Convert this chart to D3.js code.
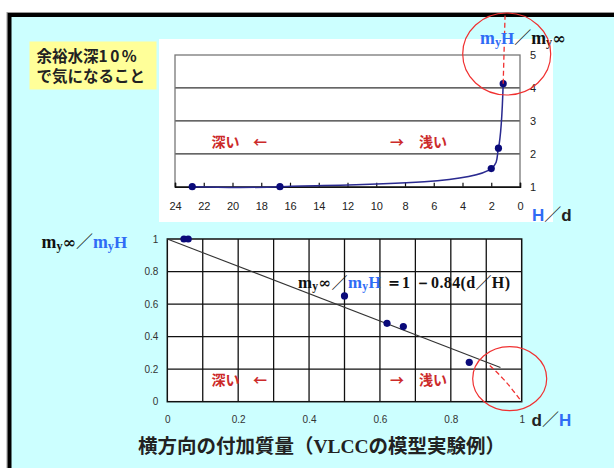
<!DOCTYPE html>
<html><head><meta charset="utf-8">
<script src="https://cdn.jsdelivr.net/npm/d3@7"></script>
<style>
body{margin:0;background:#fff}
svg{display:block}
</style>
</head><body>
<svg id="c" width="614" height="468"></svg>
<script>
// --- upper chart: H/d against myH/my∞ ---
const depthRatio   = [22.8, 16.7, 2.0, 1.5, 1.17];
const massRatioUp  = [1.0, 1.0, 1.55, 2.17, 4.13];
// dashed continuation past the shallowest point
const trendHd      = [1.17, 1.04];
const trendUp      = [4.13, 6.2];
const topXTicks    = [24, 22, 20, 18, 16, 14, 12, 10, 8, 6, 4, 2, 0];
const topYTicks    = [1, 2, 3, 4, 5];

// --- lower chart: d/H against my∞/myH ---
const draftRatio     = [0.047, 0.059, 0.5, 0.62, 0.666, 0.852];
const massRatioDown  = [1.0, 1.0, 0.65, 0.482, 0.462, 0.242];
const fitIntercept   = 1;
const fitSlope       = 0.84;
const fitRange       = [0, 0.94];
const dashDH         = [0.91, 0.953, 1.0];
const dashRatio      = [0.222, 0.128, 0.0];
const bottomXTicks   = [0, 0.2, 0.4, 0.6, 0.8, 1];
const bottomXGrid    = [0.1, 0.2, 0.3, 0.4, 0.5, 0.6, 0.7, 0.8, 0.9];
const bottomYTicks   = [0, 0.2, 0.4, 0.6, 0.8, 1];

const svg = d3.select("#c");
const CJK = "'Noto Sans CJK JP', 'Noto Sans', sans-serif";
const SERIF = "'Liberation Serif', 'DejaVu Serif', serif";
const SANS = "'Liberation Sans', Arial, sans-serif";
const BLUE = "#2f6cf5";
const RED = "#cc2a2a";
const NAVY = "#0a0a7a";

// framed cyan panel
svg.append("rect").attr("x", 7).attr("y", 12.5).attr("width", 700).attr("height", 600)
  .attr("fill", "none").attr("stroke", "#999").attr("stroke-width", 1);
svg.append("rect").attr("x", 9.5).attr("y", 15).attr("width", 700).attr("height", 600)
  .attr("fill", "#ccffff").attr("stroke", "#000").attr("stroke-width", 4);

// note box
svg.append("rect").attr("x", 29.5).attr("y", 41.5).attr("width", 127).attr("height", 48)
  .attr("fill", "#ffff99");
const note = svg.append("text").attr("font-family", CJK).attr("font-weight", "bold")
  .attr("font-size", 15.5).attr("fill", "#222");
const line1 = note.append("tspan").attr("x", 36.5).attr("y", 62);
line1.append("tspan").text("余裕水深");
line1.append("tspan").attr("letter-spacing", 2.5).text("10%");
note.append("tspan").attr("x", 36.5).attr("y", 82).text("で気になること");

// ===== upper chart =====
svg.append("rect").attr("x", 159).attr("y", 39).attr("width", 394).attr("height", 183).attr("fill", "#fff");

const xT = d3.scaleLinear().domain([24, 0]).range([175, 520]);
const yT = d3.scaleLinear().domain([1, 5]).range([186.7, 55]);

const gT = svg.append("g");
gT.selectAll("line.grid").data(topYTicks.slice(1, -1)).join("line")
  .attr("x1", xT(24)).attr("x2", xT(0)).attr("y1", d => yT(d)).attr("y2", d => yT(d))
  .attr("stroke", "#333").attr("stroke-width", 1.3);
gT.append("rect").attr("x", xT(24)).attr("y", yT(5)).attr("width", xT(0) - xT(24)).attr("height", yT(1) - yT(5))
  .attr("fill", "none").attr("stroke", "#777").attr("stroke-width", 1.3);

const axT = gT.append("g").attr("transform", `translate(0,${yT(1)})`)
  .call(d3.axisBottom(xT).tickValues(topXTicks).tickSize(-4).tickPadding(16).tickFormat(d3.format("d")));
axT.select(".domain").attr("stroke", "#111").attr("stroke-width", 1.5);
axT.selectAll(".tick line").attr("stroke", "#111").attr("stroke-width", 1.2);
axT.selectAll("text").attr("font-family", SANS).attr("font-size", 11).attr("fill", "#222");

const ayT = gT.append("g").attr("transform", `translate(${xT(0)},0)`)
  .call(d3.axisRight(yT).tickValues(topYTicks).tickSize(0).tickPadding(10).tickFormat(d3.format("d")));
ayT.select(".domain").remove();
ayT.selectAll("text").attr("font-family", SANS).attr("font-size", 11).attr("fill", "#222");

const ptsT = depthRatio.map((v, i) => [v, massRatioUp[i]]);
gT.append("path").datum(ptsT)
  .attr("d", d3.line().x(d => xT(d[0])).y(d => yT(d[1])).curve(d3.curveCatmullRom.alpha(0.5)))
  .attr("fill", "none").attr("stroke", "#2a2a90").attr("stroke-width", 1.5);
gT.selectAll("circle.pt").data(ptsT).join("circle")
  .attr("cx", d => xT(d[0])).attr("cy", d => yT(d[1])).attr("r", 3.6).attr("fill", NAVY);

gT.append("path").datum(trendHd.map((v, i) => [v, trendUp[i]]))
  .attr("d", d3.line().x(d => xT(d[0])).y(d => yT(d[1])))
  .attr("fill", "none").attr("stroke", "#f03030").attr("stroke-width", 1.3).attr("stroke-dasharray", "5,3");

// direction notes
function directionNotes(g, yBase) {
  const t = g.append("g").attr("font-family", CJK).attr("font-weight", "bold").attr("font-size", 14).attr("fill", RED);
  t.append("text").attr("x", 211.5).attr("y", yBase).text("深い");
  t.append("text").attr("x", 267).attr("y", yBase).attr("text-anchor", "end").text("←");
  t.append("text").attr("x", 390).attr("y", yBase).text("→");
  t.append("text").attr("x", 447).attr("y", yBase).attr("text-anchor", "end").text("浅い");
}
directionNotes(gT, 146.5);

// ratio symbol: m, small y, then H or ∞
function massSym(sel, suffix, color, size) {
  sel.append("tspan").attr("fill", color).attr("font-size", size * 1.05).text("m");
  sel.append("tspan").attr("fill", color).attr("font-size", size * 0.72).attr("dy", 1.5).text("y");
  if (suffix === "∞") {
    sel.append("tspan").attr("fill", color).attr("font-family", "'DejaVu Serif', serif")
      .attr("font-weight", "bold").attr("font-size", size * 0.95).attr("dy", -1.5).text("∞");
  } else {
    sel.append("tspan").attr("fill", color).attr("font-size", size).attr("dy", -1.5).text(suffix);
  }
}

const labT = svg.append("text").attr("x", 480).attr("y", 44).attr("font-family", SERIF)
  .attr("font-weight", "bold").attr("font-size", 17);
massSym(labT, "H", BLUE, 17);
labT.append("tspan").attr("font-family", CJK).attr("font-weight", "normal").attr("fill", "#111").text("／");
massSym(labT, "∞", "#111", 17);

const hd = svg.append("text").attr("x", 532).attr("y", 221).attr("font-family", SANS).attr("font-weight", "bold").attr("font-size", 17);
hd.append("tspan").attr("fill", BLUE).text("H");
hd.append("tspan").attr("font-family", CJK).attr("font-weight", "normal").attr("fill", "#222").text("／");
hd.append("tspan").attr("fill", "#222").text("d");

// highlight ring (upper)
svg.append("ellipse").attr("cx", 506.7).attr("cy", 54).attr("rx", 44).attr("ry", 41)
  .attr("fill", "none").attr("stroke", "#f03030").attr("stroke-width", 1.2);

// ===== lower chart =====
const xB = d3.scaleLinear().domain([0, 1]).range([167.3, 521.7]);
const yB = d3.scaleLinear().domain([0, 1]).range([401.7, 239]);

const gB = svg.append("g");
gB.append("rect").attr("x", xB(0)).attr("y", yB(1)).attr("width", xB(1) - xB(0)).attr("height", yB(0) - yB(1))
  .attr("fill", "#fff");
gB.selectAll("line.vg").data(bottomXGrid).join("line")
  .attr("x1", d => xB(d)).attr("x2", d => xB(d)).attr("y1", yB(0)).attr("y2", yB(1))
  .attr("stroke", "#111").attr("stroke-width", 1.3);
gB.selectAll("line.hg").data(bottomYTicks.slice(1, -1)).join("line")
  .attr("x1", xB(0)).attr("x2", xB(1)).attr("y1", d => yB(d)).attr("y2", d => yB(d))
  .attr("stroke", "#111").attr("stroke-width", 1.3);
gB.append("rect").attr("x", xB(0)).attr("y", yB(1)).attr("width", xB(1) - xB(0)).attr("height", yB(0) - yB(1))
  .attr("fill", "none").attr("stroke", "#111").attr("stroke-width", 1.5);

const axB = gB.append("g").attr("transform", `translate(0,${yB(0)})`)
  .call(d3.axisBottom(xB).tickValues(bottomXTicks).tickSize(0).tickPadding(14).tickFormat(d => d3.format("")(d)));
axB.select(".domain").remove();
axB.selectAll("text").attr("font-family", SANS).attr("font-size", 10).attr("fill", "#333");

const ayB = gB.append("g").attr("transform", `translate(${xB(0)},0)`)
  .call(d3.axisLeft(yB).tickValues(bottomYTicks).tickSize(0).tickPadding(9).tickFormat(d => d3.format("")(d)));
ayB.select(".domain").remove();
ayB.selectAll("text").attr("font-family", SANS).attr("font-size", 10).attr("fill", "#333");

// fitted line  my∞/myH = 1 - 0.84 (d/H)
gB.append("path").datum(fitRange.map(v => [v, fitIntercept - fitSlope * v]))
  .attr("d", d3.line().x(d => xB(d[0])).y(d => yB(d[1])))
  .attr("fill", "none").attr("stroke", "#333").attr("stroke-width", 1.1);

gB.append("path").datum(dashDH.map((v, i) => [v, dashRatio[i]]))
  .attr("d", d3.line().x(d => xB(d[0])).y(d => yB(d[1])).curve(d3.curveMonotoneX))
  .attr("fill", "none").attr("stroke", "#f03030").attr("stroke-width", 1.3).attr("stroke-dasharray", "5,3");

gB.selectAll("circle.pt").data(draftRatio.map((v, i) => [v, massRatioDown[i]])).join("circle")
  .attr("cx", d => xB(d[0])).attr("cy", d => yB(d[1])).attr("r", 3.6).attr("fill", NAVY);

directionNotes(gB, 385);

// equation
const eq = svg.append("text").attr("x", 298).attr("y", 288).attr("font-family", SERIF)
  .attr("font-weight", "bold").attr("font-size", 16)
  .attr("textLength", 212).attr("lengthAdjust", "spacing");
massSym(eq, "∞", "#111", 16);
eq.append("tspan").attr("font-family", CJK).attr("font-weight", "normal").attr("fill", "#111").text("／");
massSym(eq, "H", BLUE, 16);
eq.append("tspan").attr("fill", "#111").text(" ＝1 －0.84(d");
eq.append("tspan").attr("font-family", CJK).attr("font-weight", "normal").attr("fill", "#111").text("／");
eq.append("tspan").attr("fill", "#111").text("H)");

const labB = svg.append("text").attr("x", 41.5).attr("y", 248).attr("font-family", SERIF)
  .attr("font-weight", "bold").attr("font-size", 17);
massSym(labB, "∞", "#111", 17);
labB.append("tspan").attr("font-family", CJK).attr("font-weight", "normal").attr("fill", "#111").text("／");
massSym(labB, "H", BLUE, 17);

const dh = svg.append("text").attr("x", 531.5).attr("y", 426).attr("font-family", SANS).attr("font-weight", "bold").attr("font-size", 17);
dh.append("tspan").attr("fill", "#222").text("d");
dh.append("tspan").attr("font-family", CJK).attr("font-weight", "normal").attr("fill", "#222").text("／");
dh.append("tspan").attr("fill", BLUE).text("H");

// highlight ring (lower)
svg.append("ellipse").attr("cx", 509.7).attr("cy", 378.7).attr("rx", 37).attr("ry", 32)
  .attr("fill", "none").attr("stroke", "#f03030").attr("stroke-width", 1.2);

// title
const title = svg.append("text").attr("x", 138).attr("y", 453).attr("font-family", CJK)
  .attr("font-weight", "bold").attr("font-size", 19.5).attr("fill", "#222")
  .attr("textLength", 367).attr("lengthAdjust", "spacing");
title.append("tspan").text("横方向の付加質量（");
title.append("tspan").attr("font-family", SERIF).text("VLCC");
title.append("tspan").text("の模型実験例）");
</script>
</body></html>
